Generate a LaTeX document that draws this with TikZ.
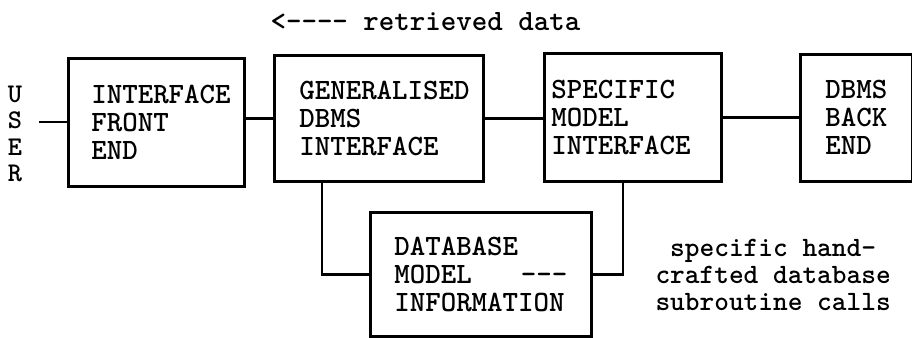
\documentclass[tikz,border=0pt]{standalone}
\usepackage{tikz}

\begin{document}
\begin{tikzpicture}[x=1pt, y=-1pt]
	\tikzset{every node/.style={font=\fontsize{29.5}{28}\selectfont\ttfamily\bfseries}}
	\tikzset{boxed/.style={draw, rectangle, line width=2.6pt, anchor=north west, align=left, inner ysep=0pt}}
	\tikzset{wire/.style={line width=2.6pt}}
	\useasboundingbox (0,0) rectangle (912,337);

	\node[anchor=west] (retr) at (267,22) {<-{}-{}-{}- retrieved data};
	\node[align=center, font=\fontsize{27}{26.5}\selectfont\ttfamily\bfseries] (user) at (15,134) {U\\S\\E\\R};
	\coordinate (userS) at (39,122);

	\node[boxed, inner xsep=23pt, text width=130pt, minimum height=128pt] (front) at (67,57) {INTERFACE\\FRONT\\END};
	\node[boxed, inner xsep=25pt, text width=159pt, minimum height=126pt] (gen) at (273,54) {GENERALISED\\DBMS\\INTERFACE};
	\node[boxed, inner xsep=7pt, text width=163pt, minimum height=128pt] (spec) at (543,52) {SPECIFIC\\MODEL\\INTERFACE};
	\node[boxed, inner xsep=25pt, text width=62pt, minimum height=127pt] (back) at (799,53) {DBMS\\BACK\\END};
	\node[boxed, inner xsep=24pt, text width=173pt, minimum height=124pt] (db) at (369,211) {DATABASE\\MODEL\ \ \ \ \ \rlap{-{}-{}-}\\INFORMATION};

	\node[anchor=west, align=left, font=\fontsize{28}{27}\selectfont\ttfamily\bfseries] (calls) at (652,275) {\hphantom{s}specific hand-\\crafted database\\subroutine calls};

	\draw[wire] (userS) -- (front.west |- userS);
	\draw[wire] (gen.west -| front.east) -- (gen.west);
	\draw[wire] (gen.east) -- (gen.east -| spec.west);
	\draw[wire] (spec.east) -- (spec.east -| back.west);
	\draw[wire] ([xshift=49pt]gen.south west) |- (db.west);
	\draw[wire] ([xshift=80pt]spec.south west) |- (db.east);

\end{tikzpicture}
\end{document}
